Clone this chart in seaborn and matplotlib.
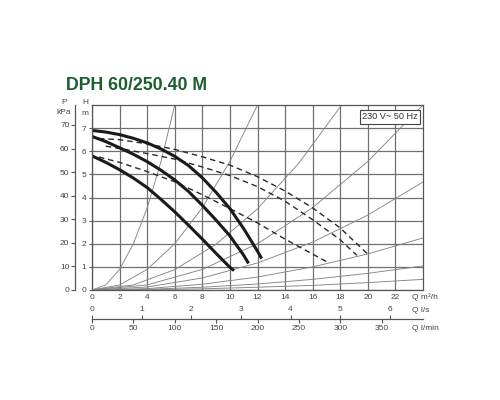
import numpy as np
import pandas as pd
import matplotlib.pyplot as plt
import seaborn as sns

# pump curves, Q in m3/h, H in m
speed3_q = [0, 1, 2, 3, 4, 5, 6, 7, 8, 9, 10, 11, 12, 12.3]
speed3_h = [6.9, 6.83, 6.72, 6.56, 6.36, 6.1, 5.78, 5.38, 4.85, 4.22, 3.52, 2.65, 1.68, 1.36]
speed2_q = [0, 1, 2, 3, 4, 5, 6, 7, 8, 9, 10, 11, 11.35]
speed2_h = [6.64, 6.42, 6.15, 5.87, 5.55, 5.18, 4.76, 4.26, 3.66, 3.02, 2.34, 1.5, 1.15]
speed1_q = [0, 1, 2, 3, 4, 5, 6, 7, 8, 9, 10, 10.3]
speed1_h = [5.8, 5.52, 5.2, 4.84, 4.43, 3.92, 3.38, 2.8, 2.2, 1.58, 0.98, 0.84]

# dashed curves (twin operation)
twin3_q = [0.5, 2, 4, 6, 8, 10, 12, 14, 16, 18, 20]
twin3_h = [6.55, 6.5, 6.32, 6.08, 5.76, 5.4, 4.9, 4.28, 3.55, 2.68, 1.55]
twin2_q = [1, 2, 4, 6, 8, 10, 12, 14, 16, 18, 19.2]
twin2_h = [6.22, 6.12, 5.9, 5.66, 5.32, 4.95, 4.47, 3.84, 3.04, 2.17, 1.5]
twin1_q = [0.5, 2, 4, 6, 8, 10, 12, 14, 16, 17]
twin1_h = [5.75, 5.52, 5.12, 4.68, 4.12, 3.52, 2.9, 2.2, 1.55, 1.23]

# system curves (thin grey parabolas)
sys1_q = [0, 1, 2, 3, 4, 5, 6]
sys1_h = [0, 0.22, 0.89, 2.0, 3.55, 5.55, 8.0]
sys2_q = [0, 2, 4, 6, 8, 10, 12]
sys2_h = [0, 0.22, 0.89, 2.0, 3.56, 5.56, 8.0]
sys3_q = [0, 3, 6, 9, 12, 15, 18.1]
sys3_h = [0, 0.22, 0.88, 1.98, 3.51, 5.49, 8.0]
sys4_q = [0, 4, 8, 12, 16, 20, 24]
sys4_h = [0, 0.22, 0.89, 2.0, 3.56, 5.56, 8.0]
sys5_q = [0, 4, 8, 12, 16, 20, 24]
sys5_h = [0, 0.13, 0.52, 1.17, 2.07, 3.24, 4.67]
sys6_q = [0, 4, 8, 12, 16, 20, 24]
sys6_h = [0, 0.06, 0.25, 0.56, 1.0, 1.56, 2.25]
sys7_q = [0, 4, 8, 12, 16, 20, 24]
sys7_h = [0, 0.03, 0.12, 0.26, 0.46, 0.72, 1.04]
sys8_q = [0, 4, 8, 12, 16, 20, 24]
sys8_h = [0, 0.01, 0.05, 0.12, 0.2, 0.32, 0.46]

q_m3h_ticks = list(range(0, 24, 2))
h_ticks = list(range(0, 8))
kpa_ticks = list(range(0, 80, 10))
ls_ticks = [0, 1, 2, 3, 4, 5, 6]
lmin_ticks = [0, 50, 100, 150, 200, 250, 300, 350]

sns.set_style('white')
plt.rcParams['font.family'] = ['Liberation Sans', 'DejaVu Sans']

fig = plt.figure(figsize=(5, 4), dpi=100)
L, R = 92 / 500, 423 / 500
B, T = 1 - 290 / 400, 1 - 105 / 400
ax = fig.add_axes([L, B, R - L, T - B])
ax.set_xlim(0, 24)
ax.set_ylim(0, 8)

ax.set_xticks(q_m3h_ticks)
ax.set_yticks(h_ticks)
ax.grid(True, which='major', color='#707070', lw=0.9)
ax.set_axisbelow(True)
ax.tick_params(axis='x', length=0, pad=3, labelsize=6, labelcolor='#444')
ax.tick_params(axis='y', length=2.5, pad=1.5, labelsize=6,
               labelcolor='#444', color='#555', left=True)
for s in ax.spines.values():
    s.set_color('#555')
    s.set_linewidth(0.9)

sys_curves = [(sys1_q, sys1_h), (sys2_q, sys2_h), (sys3_q, sys3_h), (sys4_q, sys4_h),
              (sys5_q, sys5_h), (sys6_q, sys6_h), (sys7_q, sys7_h), (sys8_q, sys8_h)]
for q, h in sys_curves:
    sns.lineplot(x=q, y=h, ax=ax, color='#858585', lw=0.65, estimator=None, sort=False)

for q, h in [(twin3_q, twin3_h), (twin2_q, twin2_h), (twin1_q, twin1_h)]:
    sns.lineplot(x=q, y=h, ax=ax, color='#2a2a2a', lw=1.0, linestyle=(0, (4, 2.8)),
                 estimator=None, sort=False)

for q, h in [(speed3_q, speed3_h), (speed2_q, speed2_h), (speed1_q, speed1_h)]:
    sns.lineplot(x=q, y=h, ax=ax, color='#1a1a1a', lw=2.2, estimator=None, sort=False,
                 solid_capstyle='butt', solid_joinstyle='round')

ax.set_xlabel('')
ax.set_ylabel('')

ax.text(21.6, 7.49, '230 V~ 50 Hz', ha='center', va='center', color='#333', size=6.6,
        bbox=dict(boxstyle='square,pad=0.28', fc='white', ec='#444', lw=0.8))

# kPa axis
axk = fig.add_axes([75 / 500, B, 0.0001, T - B])
axk.set_ylim(0, 8 * 9.81)
axk.set_yticks(kpa_ticks)
axk.set_xticks([])
for k in ['top', 'right', 'bottom']:
    axk.spines[k].set_visible(False)
axk.spines['left'].set_color('#555')
axk.spines['left'].set_linewidth(0.9)
axk.tick_params(axis='y', length=3, pad=1, labelsize=6, labelcolor='#444', color='#555', left=True)
axk.patch.set_alpha(0)

# flow axis l/min (bottom) and l/s (top)
axq = fig.add_axes([L, 1 - 319 / 400, R - L, 0.0001])
axq.set_xlim(0, 400)
axq.set_xticks(lmin_ticks)
axq.set_yticks([])
for k in ['top', 'right', 'left']:
    axq.spines[k].set_visible(False)
axq.spines['bottom'].set_color('#555')
axq.spines['bottom'].set_linewidth(0.9)
axq.tick_params(axis='x', length=3, pad=1.5, labelsize=6, labelcolor='#444', color='#555', bottom=True)
axq.patch.set_alpha(0)
sec = axq.secondary_xaxis('top', functions=(lambda x: x / 60, lambda x: x * 60))
sec.set_xticks(ls_ticks)
sec.spines['top'].set_visible(False)
sec.tick_params(axis='x', length=3, pad=1.5, labelsize=6, labelcolor='#444', color='#555', top=True)

lab = dict(size=6, color='#444', va='center')
fig.text(411.7 / 500, 1 - 297 / 400, 'Q m³/h', ha='left', **lab)
fig.text(411.7 / 500, 1 - 311 / 400, 'Q l/s', ha='left', **lab)
fig.text(411.7 / 500, 1 - 328 / 400, 'Q l/min', ha='left', **lab)
fig.text(64 / 500, 1 - 103 / 400, 'P', ha='center', **lab)
fig.text(64 / 500, 1 - 113 / 400, 'kPa', ha='center', **lab)
fig.text(85 / 500, 1 - 103 / 400, 'H', ha='center', **lab)
fig.text(85 / 500, 1 - 113.5 / 400, 'm', ha='center', **lab)

fig.text(136.7 / 500, 1 - 85 / 400, 'DPH 60/250.40 M', ha='center', va='center',
         color='#1c5f2e', fontweight='bold', size=12.8, family=['Liberation Sans'])

fig.savefig('out.png', dpi=100, facecolor='white')
